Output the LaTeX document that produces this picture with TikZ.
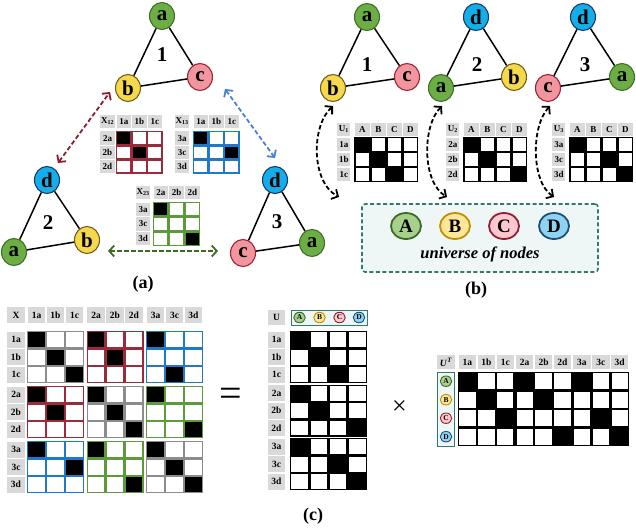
\documentclass[tikz,border=0pt]{standalone}
\usepackage{fontspec}
\setmainfont{Liberation Serif}
\usetikzlibrary{shapes.geometric,arrows.meta}
\definecolor{hdrgray}{HTML}{D9D9D9}
\definecolor{cred}{HTML}{9C2A3B}
\definecolor{cblue}{HTML}{1F78C8}
\definecolor{cgreen}{HTML}{5C9A3A}
\definecolor{cgray}{HTML}{8C8C8C}
\definecolor{ared}{HTML}{8B1E2E}
\definecolor{ablue}{HTML}{4A7FD6}
\definecolor{agreen}{HTML}{3E6B22}
\definecolor{teal}{HTML}{2F7B72}
\definecolor{tealL}{HTML}{EEF6F6}
\definecolor{uAF}{HTML}{A8D08D}\definecolor{uAD}{HTML}{3D6B25}
\definecolor{uBF}{HTML}{FFE699}\definecolor{uBD}{HTML}{BF9000}
\definecolor{uCF}{HTML}{FFC7CE}\definecolor{uCD}{HTML}{922034}
\definecolor{uDF}{HTML}{8FD3F2}\definecolor{uDD}{HTML}{1F4E79}
\definecolor{gaF}{HTML}{6CAD45}\definecolor{gaD}{HTML}{3E7028}
\definecolor{gbF}{HTML}{F6D84C}\definecolor{gbD}{HTML}{6E6020}
\definecolor{gcF}{HTML}{F1969E}\definecolor{gcD}{HTML}{A02236}
\definecolor{gdF}{HTML}{14AEEA}\definecolor{gdD}{HTML}{1B3A6B}
\newcommand{\cins}{1.3}
% x0 y0 ncols nrows cw ch color blacklist(col/row)
\newcommand{\cgrid}[8]{%
  \fill[#7] (#1,#2) rectangle ({#1+#3*#5},{#2+#4*#6});
  \foreach \ci in {1,...,#3}{\foreach \ri in {1,...,#4}{
    \fill[white] ({#1+(\ci-1)*#5+\cins},{#2+(\ri-1)*#6+\cins}) rectangle ({#1+\ci*#5-\cins},{#2+\ri*#6-\cins});}}
  \foreach \ci/\ri in {#8}{
    \fill[black] ({#1+(\ci-1)*#5+\cins},{#2+(\ri-1)*#6+\cins}) rectangle ({#1+\ci*#5-\cins},{#2+\ri*#6-\cins});}
}
% U-matrix labels of part (b): x0 index r1 r2 r3
\newcommand{\ulabels}[5]{%
  \node[hdr,minimum width=13pt] (u#2x) at ({#1-10.5},129.5) {U\textsubscript{#2}};
  \foreach \t [count=\k] in {A,B,C,D}{\node[hdr] (u#2c\k) at ({#1+16*\k-8},129.5) {\t};}
  \node[hdr,minimum width=13pt] (u#2r1) at ({#1-10.5},144.5) {#3};
  \node[hdr,minimum width=13pt] (u#2r2) at ({#1-10.5},159.5) {#4};
  \node[hdr,minimum width=13pt] (u#2r3) at ({#1-10.5},174.5) {#5};
}
\begin{document}
\begin{tikzpicture}[x=1pt,y=-1pt,
  gnode/.style={ellipse,line width=1.1pt,minimum width=25pt,minimum height=27pt,inner sep=0pt,font=\bfseries\fontsize{21}{21}\selectfont},
  ga/.style={gnode,fill=gaF,draw=gaD},
  gb/.style={gnode,fill=gbF,draw=gbD},
  gc/.style={gnode,fill=gcF,draw=gcD},
  gd/.style={gnode,fill=gdF,draw=gdD},
  edge/.style={line width=1.5pt,black},
  num/.style={font=\bfseries\fontsize{21}{21}\selectfont,inner sep=0pt},
  captxt/.style={font=\bfseries\fontsize{18}{18}\selectfont,inner sep=0pt},
  hdr/.style={fill=hdrgray,inner sep=0pt,minimum height=13.5pt,minimum width=14.5pt,font=\bfseries\fontsize{9}{9}\selectfont},
  hdrC/.style={fill=hdrgray,inner sep=0pt,minimum height=15.5pt,minimum width=17.5pt,font=\bfseries\fontsize{9.5}{9.5}\selectfont},
  darr/.style={dashed,dash pattern=on 4.5pt off 2.5pt,line width=1.8pt,{Straight Barb[length=5pt,width=11pt]}-{Straight Barb[length=5pt,width=11pt]}},
  unode/.style={ellipse,line width=1.8pt,minimum width=30pt,minimum height=26pt,inner sep=0pt,font=\bfseries\fontsize{19}{19}\selectfont},
  snode/.style={ellipse,line width=0.9pt,minimum width=11.5pt,minimum height=10.5pt,inner sep=0pt,font=\bfseries\fontsize{7.5}{7.5}\selectfont},
  uA/.style={fill=uAF,draw=uAD},uB/.style={fill=uBF,draw=uBD},
  uC/.style={fill=uCF,draw=uCD},uD/.style={fill=uDF,draw=uDD}
]
\useasboundingbox (0,0) rectangle (636,530);

% ================= (a) =================
\node[ga] (A1a) at (162,16) {a};
\node[gb] (A1b) at (128,88) {b};
\node[gc] (A1c) at (200,77) {c};
\node[num] (A1n) at (162,55) {1};
\draw[edge] (A1a)--(A1b) (A1a)--(A1c) (A1b)--(A1c);

\node[gd] (A2d) at (47,180) {d};
\node[ga] (A2a) at (14,252) {a};
\node[gb] (A2b) at (87,240) {b};
\node[num] (A2n) at (48,223) {2};
\draw[edge] (A2d)--(A2a) (A2d)--(A2b) (A2a)--(A2b);

\node[gd] (A3d) at (275,180) {d};
\node[gc] (A3c) at (243,253) {c};
\node[ga] (A3a) at (312,243) {a};
\node[num] (A3n) at (277,222) {3};
\draw[edge] (A3d)--(A3c) (A3d)--(A3a) (A3c)--(A3a);

\coordinate (rA) at (58,163); \coordinate (rB) at (110,92);
\coordinate (bA) at (225,89); \coordinate (bB) at (275,158);
\coordinate (gA) at (108,251); \coordinate (gB) at (218,251);
\draw[darr,ared] (rA)--(rB);
\draw[darr,ablue] (bA)--(bB);
\draw[darr,agreen] (gA)--(gB);

% X12
\node[hdr] (x12x) at (107.5,121.5) {X\textsubscript{12}};
\foreach \t [count=\k] in {1a,1b,1c}{\node[hdr] (x12c\k) at ({116+15.5*\k-7.75},121.5) {\t};}
\foreach \t [count=\k] in {2a,2b,2d}{\node[hdr] (x12r\k) at (107.5,{131+14.2*\k-7.1}) {\t};}
\cgrid{116}{131}{3}{3}{15.5}{14.2}{cred}{1/1,2/2}
% X13
\node[hdr] (x13x) at (182,121.5) {X\textsubscript{13}};
\foreach \t [count=\k] in {1a,1b,1c}{\node[hdr] (x13c\k) at ({193+15.5*\k-7.75},121.5) {\t};}
\foreach \t [count=\k] in {3a,3c,3d}{\node[hdr] (x13r\k) at (182,{131+14.2*\k-7.1}) {\t};}
\cgrid{193}{131}{3}{3}{15.5}{14.2}{cblue}{1/1,3/2}
% X23
\node[hdr] (x23x) at (143,192.5) {X\textsubscript{23}};
\foreach \t [count=\k] in {2a,2b,2d}{\node[hdr] (x23c\k) at ({153+15.7*\k-7.85},192.5) {\t};}
\foreach \t [count=\k] in {3a,3c,3d}{\node[hdr] (x23r\k) at (143,{202+14.6*\k-7.3}) {\t};}
\cgrid{153}{202}{3}{3}{15.7}{14.6}{cgreen}{1/1,3/3}

\node[captxt] (capa) at (143,284) {(a)};

% ================= (b) =================
\node[ga] (B1a) at (367,17) {a};
\node[gb] (B1b) at (333,88) {b};
\node[gc] (B1c) at (407,77) {c};
\node[num] (B1n) at (367,65) {1};
\draw[edge] (B1a)--(B1b) (B1a)--(B1c) (B1b)--(B1c);

\node[gd] (B2d) at (476,17) {d};
\node[ga] (B2a) at (441,88) {a};
\node[gb] (B2b) at (514,77) {b};
\node[num] (B2n) at (477,65) {2};
\draw[edge] (B2d)--(B2a) (B2d)--(B2b) (B2a)--(B2b);

\node[gd] (B3d) at (583,17) {d};
\node[gc] (B3c) at (548,88) {c};
\node[ga] (B3a) at (622,77) {a};
\node[num] (B3n) at (585,65) {3};
\draw[edge] (B3d)--(B3c) (B3d)--(B3a) (B3c)--(B3a);

% U1, U2, U3
\ulabels{354.3}{1}{1a}{1b}{1c}
\cgrid{354.3}{137}{4}{3}{16}{15}{black}{1/1,2/2,3/3}
\ulabels{463.3}{2}{2a}{2b}{2d}
\cgrid{463.3}{137}{4}{3}{16}{15}{black}{1/1,2/2,4/3}
\ulabels{569.3}{3}{3a}{3c}{3d}
\cgrid{569.3}{137}{4}{3}{16}{15}{black}{1/1,3/2,4/3}

% universe box
\node[draw=teal,fill=tealL,dashed,dash pattern=on 4pt off 2.5pt,line width=1.6pt,rounded corners=3pt,minimum width=236pt,minimum height=68pt] (univ) at (480,238) {};
\node[unode,uA] (UA) at (406,226) {A};
\node[unode,uB] (UB) at (455,226) {B};
\node[unode,uC] (UC) at (504,226) {C};
\node[unode,uD] (UD) at (554,226) {D};
\node[font=\bfseries\itshape\fontsize{16.5}{16.5}\selectfont,inner sep=0pt] (ulab) at (480,254) {universe of nodes};
\node[captxt] (capb) at (476,290) {(b)};

% curved arrows
\coordinate (c1t) at (333,106); \coordinate (c1b) at (339,197);
\coordinate (c2t) at (442,106); \coordinate (c2b) at (447,197);
\coordinate (c3t) at (550,106); \coordinate (c3b) at (554,197);
\draw[darr,black] (c1t) .. controls (311,126) and (311,182) .. (c1b);
\draw[darr,black] (c2t) .. controls (422,126) and (422,182) .. (c2b);
\draw[darr,black] (c3t) .. controls (531,126) and (531,182) .. (c3b);

% ================= (c) =================
% X matrix
\node[hdrC] (Xx) at (16,315) {X};
\foreach \t/\cx [count=\k] in {1a/36.5,1b/55.5,1c/74.5,2a/96,2b/115,2d/134,3a/155.5,3c/174.5,3d/193.5}{\node[hdrC] (Xc\k) at (\cx,315) {\t};}
\foreach \t/\ry [count=\k] in {1a/339.7,1b/357.1,1c/374.5,2a/394.7,2b/412.1,2d/429.5,3a/449.7,3c/467.1,3d/484.5}{\node[hdrC,minimum height=16pt] (Xr\k) at (16,\ry) {\t};}
\cgrid{27}{331}{3}{3}{19}{17.4}{cgray}{1/1,2/2,3/3}
\cgrid{86.5}{331}{3}{3}{19}{17.4}{cred}{1/1,2/2}
\cgrid{146}{331}{3}{3}{19}{17.4}{cblue}{1/1,2/3}
\cgrid{27}{386}{3}{3}{19}{17.4}{cred}{1/1,2/2}
\cgrid{86.5}{386}{3}{3}{19}{17.4}{cgray}{1/1,2/2,3/3}
\cgrid{146}{386}{3}{3}{19}{17.4}{cgreen}{1/1,3/3}
\cgrid{27}{441}{3}{3}{19}{17.4}{cblue}{1/1,3/2}
\cgrid{86.5}{441}{3}{3}{19}{17.4}{cgreen}{1/1,3/3}
\cgrid{146}{441}{3}{3}{19}{17.4}{cgray}{1/1,2/2,3/3}

\node[inner sep=0pt,font=\fontsize{40}{40}\selectfont] (eq) at (231,397) {=};

% U matrix
\node[hdrC] (Ux) at (276.5,317.5) {U};
\node[draw=teal,fill=tealL,line width=1pt,minimum width=76pt,minimum height=15pt,inner sep=0pt] (Uhb) at (329,317.5) {};
\node[snode,uA] (UhA) at (299.5,317.5) {A};
\node[snode,uB] (UhB) at (319.5,317.5) {B};
\node[snode,uC] (UhC) at (339.5,317.5) {C};
\node[snode,uD] (UhD) at (359,317.5) {D};
\foreach \t/\ry [count=\k] in {1a/339.7,1b/357.1,1c/374.5,2a/393.2,2b/410.6,2d/428,3a/446.7,3c/464.1,3d/481.5}{\node[hdrC,minimum height=16pt] (Ur\k) at (276.5,\ry) {\t};}
\cgrid{290}{331}{4}{3}{19.25}{17.4}{black}{1/1,2/2,3/3}
\cgrid{290}{384.5}{4}{3}{19.25}{17.4}{black}{1/1,2/2,4/3}
\cgrid{290}{438}{4}{3}{19.25}{17.4}{black}{1/1,3/2,4/3}

\node[inner sep=0pt,font=\fontsize{26}{26}\selectfont] (times) at (399.5,408) {×};

% U^T matrix
\node[hdrC,minimum height=14pt] (UTx) at (446,362) {\textit{U}\textsuperscript{\textit{T}}};
\foreach \t/\cx [count=\k] in {1a/467.45,1b/486.35,1c/505.25,2a/524.65,2b/543.55,2d/562.45,3a/581.85,3c/600.75,3d/619.65}{\node[hdrC,minimum height=14pt] (UTc\k) at (\cx,362) {\t};}
\node[draw=teal,fill=tealL,line width=1pt,minimum width=17pt,minimum height=74pt,inner sep=0pt] (UTb) at (446,409) {};
\node[snode,uA] (UTA) at (446,381.2) {A};
\node[snode,uB] (UTB) at (446,399.7) {B};
\node[snode,uC] (UTC) at (446,418.2) {C};
\node[snode,uD] (UTD) at (446,436.7) {D};
\cgrid{458}{372}{3}{4}{18.9}{18.5}{black}{1/1,2/2,3/3}
\cgrid{515.2}{372}{3}{4}{18.9}{18.5}{black}{1/1,2/2,3/4}
\cgrid{572.4}{372}{3}{4}{18.9}{18.5}{black}{1/1,2/3,3/4}

\node[captxt] (capc) at (313,516) {(c)};
\end{tikzpicture}
\end{document}
